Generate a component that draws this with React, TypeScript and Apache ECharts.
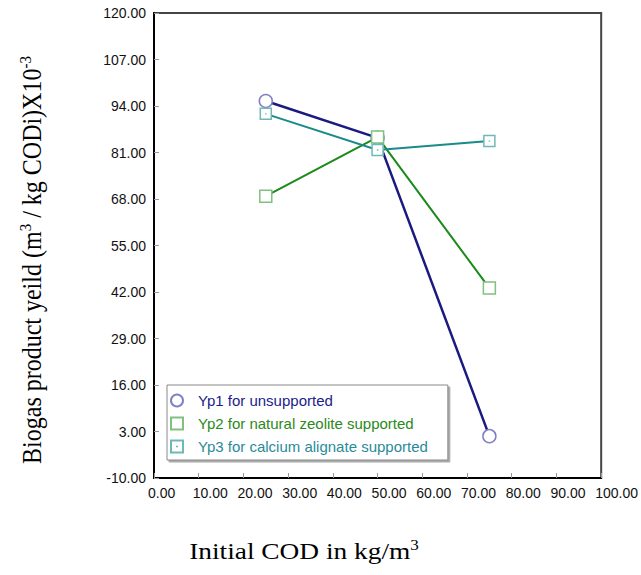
import React, { useEffect, useRef } from "react";
import * as echarts from "echarts";

const xValues = [25, 50, 75];
const yp1 = [95.4, 85.1, 1.7];
const yp2 = [68.8, 85.3, 43.1];
const yp3 = [91.8, 81.7, 84.2];
const yTicks = [-10, 3, 16, 29, 42, 55, 68, 81, 94, 107, 120];
const seriesNames = [
  "Yp1 for unsupported",
  "Yp2 for natural zeolite supported",
  "Yp3 for calcium alignate supported",
];

const dotSquare = "path://M0,0H10V10H0Z M5,4.4V5.6";

export default function App() {
  const ref = useRef<HTMLDivElement>(null);
  useEffect(() => {
    if (!ref.current) return;
    const chart = echarts.init(ref.current, undefined, { renderer: "svg" });
    const pts = (ys: number[]) => xValues.map((x, i) => [x, ys[i]]);
    const labelFont = { fontFamily: "Liberation Sans, Arial", fontSize: 14, color: "#111" };
    const serif = "Liberation Serif, Times New Roman";
    chart.setOption({
      animation: false,
      backgroundColor: "#fff",
      grid: {
        left: 154,
        right: 37,
        top: 13,
        bottom: 97,
        show: true,
        borderColor: "#444",
        borderWidth: 2,
        backgroundColor: "#fff",
      },
      xAxis: {
        type: "value",
        min: 0,
        max: 100,
        interval: 10,
        axisLine: { show: true, onZero: false, lineStyle: { color: "#000", width: 2 } },
        axisTick: { show: true, inside: true, length: 5, lineStyle: { color: "#999" } },
        splitLine: { show: false },
        axisLabel: {
          ...labelFont,
          align: "left",
          padding: [0, 0, 0, -6],
          margin: 8,
          formatter: (v: number) => v.toFixed(2),
        },
      },
      yAxis: {
        type: "value",
        min: -10,
        max: 120,
        axisLine: { show: true, onZero: false, lineStyle: { color: "#000", width: 2 } },
        axisTick: {
          show: true,
          inside: true,
          length: 5,
          lineStyle: { color: "#999" },
          customValues: yTicks,
        },
        splitLine: { show: false },
        axisLabel: {
          ...labelFont,
          margin: 8,
          customValues: yTicks,
          formatter: (v: number) => v.toFixed(2),
        },
      },
      legend: {
        orient: "vertical",
        left: 167,
        top: 385,
        padding: [8, 20, 6, 3],
        itemGap: 8,
        itemWidth: 12,
        itemHeight: 12,
        backgroundColor: "#fff",
        borderColor: "#888",
        borderWidth: 1,
        shadowColor: "#aaa",
        shadowOffsetX: 2,
        shadowOffsetY: 2,
        shadowBlur: 0,
        textStyle: {
          fontFamily: "Liberation Sans, Arial",
          fontSize: 15,
          padding: [0, 0, 0, 10],
        },
        data: [
          { name: seriesNames[0], icon: "circle", textStyle: { color: "#1c1c8c" } },
          { name: seriesNames[1], icon: "rect", textStyle: { color: "#2a8a1a" } },
          { name: seriesNames[2], icon: dotSquare, textStyle: { color: "#2a8a9a" } },
        ],
      },
      series: [
        {
          name: seriesNames[0],
          type: "line",
          data: pts(yp1),
          symbol: "circle",
          symbolSize: 13,
          lineStyle: { color: "#1a1a80", width: 2.5 },
          itemStyle: { color: "#fff", borderColor: "#8080c8", borderWidth: 1.5 },
        },
        {
          name: seriesNames[1],
          type: "line",
          data: pts(yp2),
          symbol: "rect",
          symbolSize: 12,
          lineStyle: { color: "#1a8a1a", width: 2 },
          itemStyle: { color: "#fff", borderColor: "#80c080", borderWidth: 1.5 },
        },
        {
          name: seriesNames[2],
          type: "line",
          data: pts(yp3),
          symbol: dotSquare,
          symbolSize: 11,
          lineStyle: { color: "#1a8a8a", width: 2 },
          itemStyle: { color: "#fff", borderColor: "#70b8b8", borderWidth: 1.5 },
        },
      ],
      graphic: [
        {
          type: "text",
          x: 32,
          y: 260,
          rotation: Math.PI / 2,
          scaleY: 1.14,
          style: {
            text: "Biogas product yeild (m{sup|3} / kg CODi)X10{sup|-3}",
            fontFamily: serif,
            fontSize: 24,
            fill: "#000",
            align: "center",
            verticalAlign: "middle",
            rich: {
              sup: { fontSize: 15, fontFamily: serif, fill: "#000", padding: [0, 0, 12, 0] },
            },
          },
        },
        {
          type: "text",
          x: 304,
          y: 551,
          scaleX: 1.14,
          style: {
            text: "Initial COD in kg/m{sup|3}",
            fontFamily: serif,
            fontSize: 24,
            fill: "#000",
            align: "center",
            verticalAlign: "middle",
            rich: {
              sup: { fontSize: 15, fontFamily: serif, fill: "#000", padding: [0, 0, 12, 0] },
            },
          },
        },
      ],
    });
    return () => chart.dispose();
  }, []);
  return (
    <div
      ref={ref}
      style={{ position: "fixed", left: 0, top: 0, width: 641, height: 575, background: "#fff" }}
    />
  );
}
